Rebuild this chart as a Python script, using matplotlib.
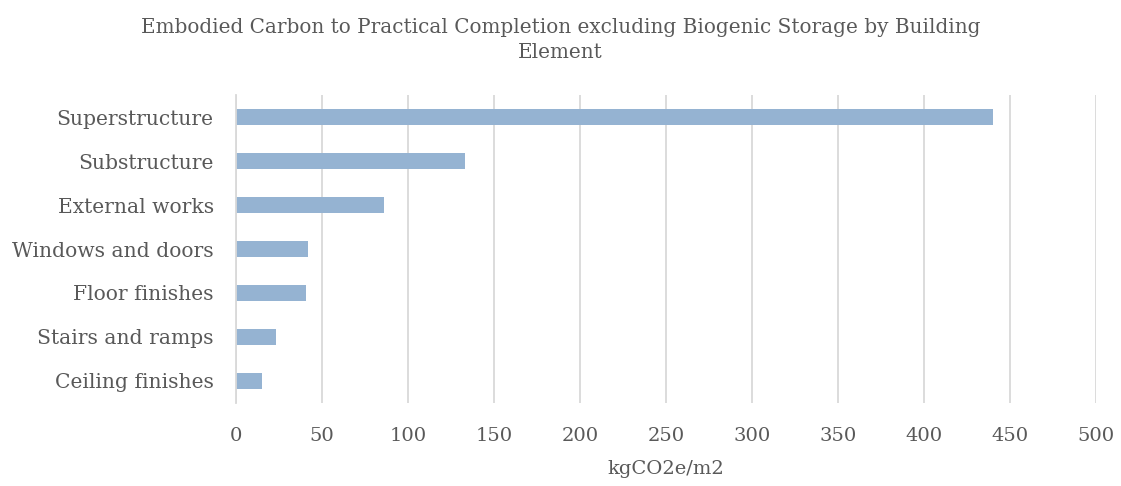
import matplotlib.pyplot as plt

categorie = ["Superstructure", "Substructure", "External works", "Windows and doors",
             "Floor finishes", "Stairs and ramps", "Ceiling finishes"]
valori = [440, 133, 86, 42, 41, 23, 15]
tick_x = [0, 50, 100, 150, 200, 250, 300, 350, 400, 450, 500]

plt.rcParams['font.family'] = ['DejaVu Serif']
grigio = "#595959"

fig = plt.figure(figsize=(11.21, 4.86), dpi=100)
ax = fig.add_axes([0.2105, 0.1708, 0.7672, 0.6337])

ax.barh(categorie, valori, height=0.36, color="#95b3d2")
ax.set_ylim(6.5, -0.5)
ax.set_xlim(0, 500)
ax.set_xticks(tick_x)

ax.grid(axis="x", color="#d9d9d9", linewidth=1.3)
ax.set_axisbelow(True)
for lato in ["top", "right", "bottom"]:
    ax.spines[lato].set_visible(False)
ax.spines["left"].set_color("#d9d9d9")
ax.spines["left"].set_linewidth(1.3)

ax.tick_params(axis="both", length=0, labelsize=14, colors=grigio)
ax.tick_params(axis="y", labelsize=14.6, pad=16)
ax.tick_params(axis="x", pad=17)

ax.set_xlabel("kgCO2e/m2", fontsize=14, color=grigio, labelpad=11)
fig.suptitle("Embodied Carbon to Practical Completion excluding Biogenic Storage by Building\nElement",
             fontsize=14.4, color=grigio, y=0.962, linespacing=1.35)

plt.savefig("out.png", dpi=100)
